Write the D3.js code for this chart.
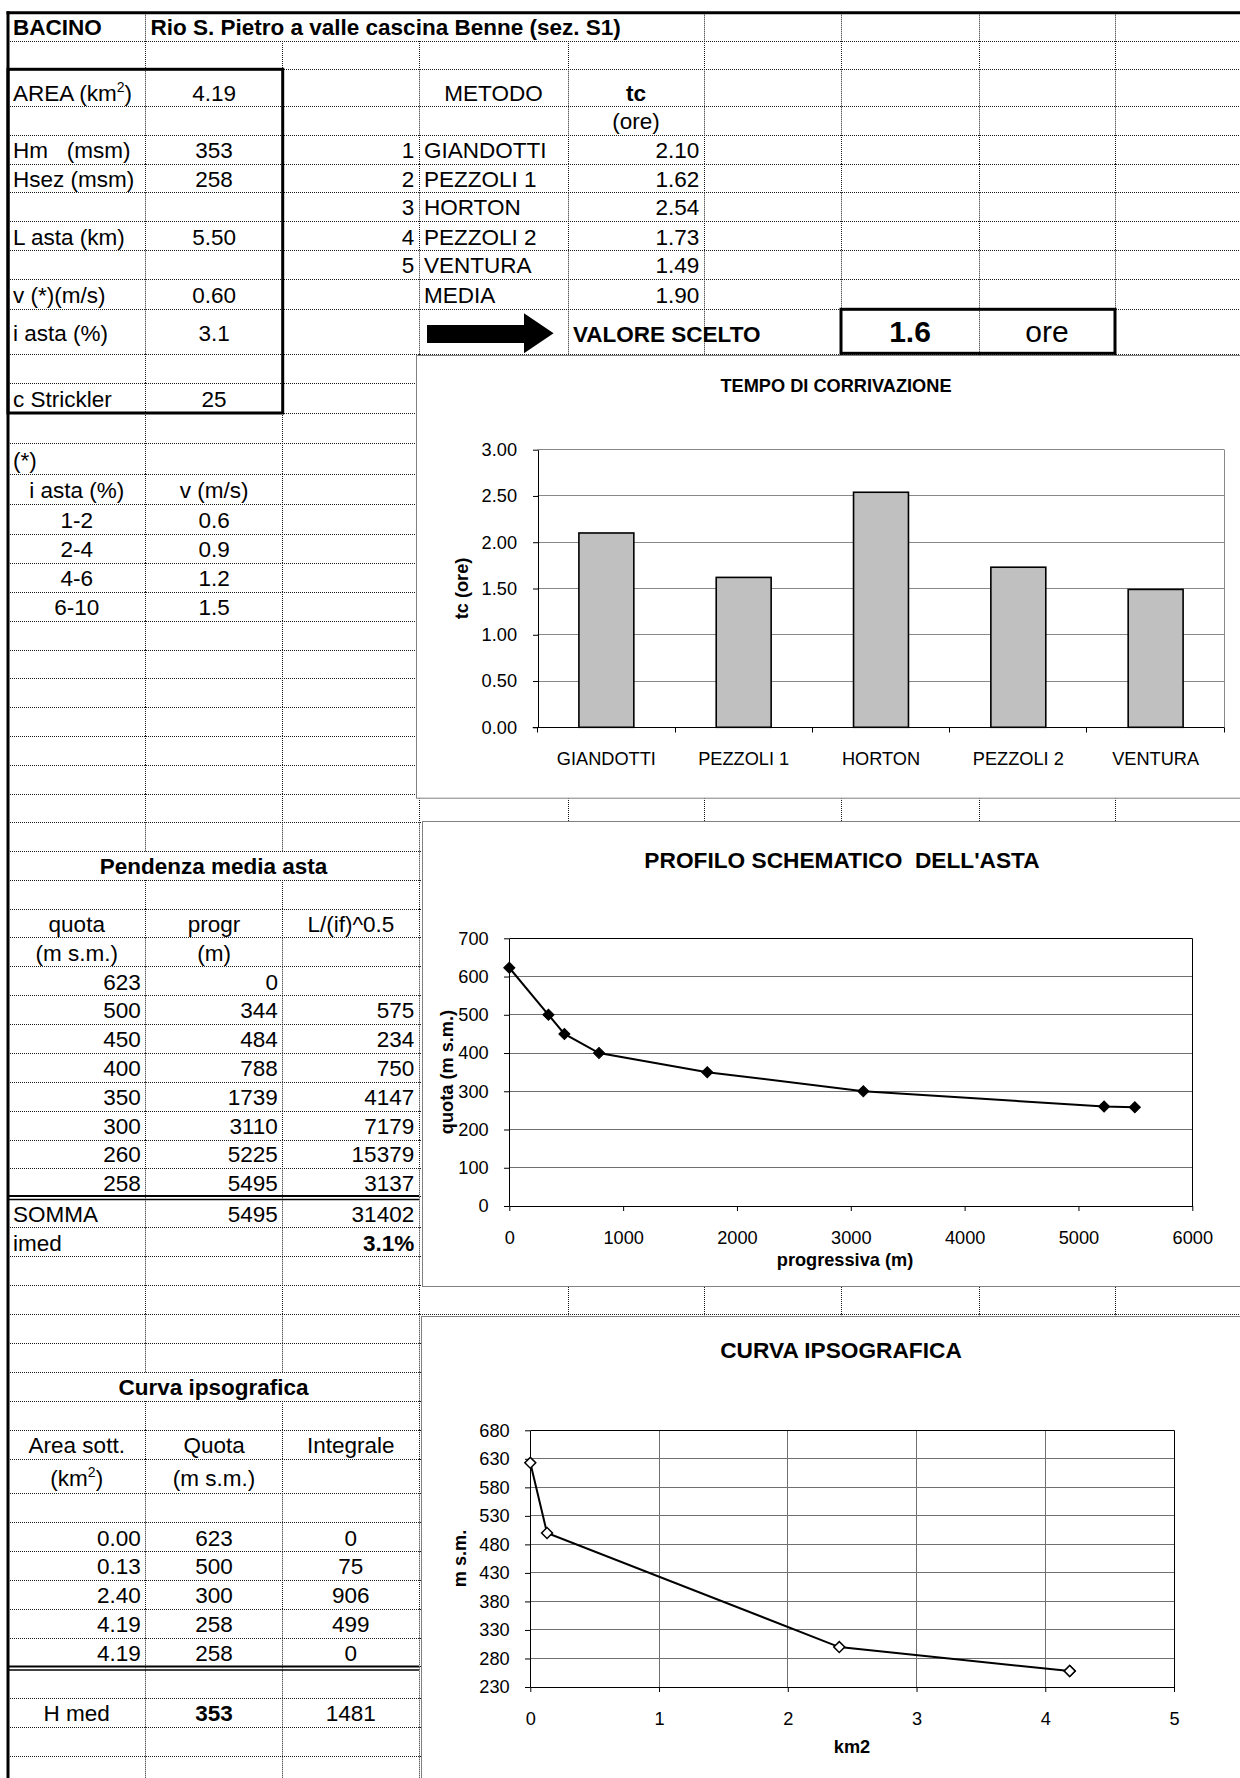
<!DOCTYPE html>
<html>
<head>
<meta charset="utf-8">
<script src="https://cdn.jsdelivr.net/npm/d3@7"></script>
<style>
  html, body { margin: 0; padding: 0; background: #fff; }
  svg { display: block; }
  text { font-family: "Liberation Sans", Arial, Helvetica, sans-serif; white-space: pre; fill: #000; }
</style>
</head>
<body>
<svg id="sheet" width="1240" height="1778"></svg>
<script>
// ---- Basin data ----
const basinName = "Rio S. Pietro a valle cascina Benne (sez. S1)";
const basinLabels = ["Hm   (msm)", "Hsez (msm)", "L asta (km)", "v (*)(m/s)", "i asta (%)", "c Strickler"];
const basinValues = ["353", "258", "5.50", "0.60", "3.1", "25"];
const basinArea = "4.19";

// ---- Time of concentration (tc, hours) ----
const methods = ["GIANDOTTI", "PEZZOLI 1", "HORTON", "PEZZOLI 2", "VENTURA"];
const tcValues = [2.10, 1.62, 2.54, 1.73, 1.49];
const tcMean = 1.90;
const tcChosen = 1.6;
const tcTicks = [0, 0.5, 1.0, 1.5, 2.0, 2.5, 3.0];

// ---- Velocity classes ----
const slopeClasses = ["1-2", "2-4", "4-6", "6-10"];
const slopeSpeeds = ["0.6", "0.9", "1.2", "1.5"];

// ---- Stream profile ----
const profQuota = [623, 500, 450, 400, 350, 300, 260, 258];
const profProgr = [0, 344, 484, 788, 1739, 3110, 5225, 5495];
const profLif = [null, 575, 234, 750, 4147, 7179, 15379, 3137];
const profSum = ["5495", "31402"];
const profImed = "3.1%";
const profTicksX = [0, 1000, 2000, 3000, 4000, 5000, 6000];
const profTicksY = [0, 100, 200, 300, 400, 500, 600, 700];

// ---- Hypsographic curve ----
const hypsoArea = [0.00, 0.13, 2.40, 4.19, 4.19];
const hypsoQuota = [623, 500, 300, 258, 258];
const hypsoIntegral = [0, 75, 906, 499, 0];
const hypsoHmed = "353";
const hypsoIntSum = "1481";
const hypsoTicksX = [0, 1, 2, 3, 4, 5];
const hypsoTicksY = [230, 280, 330, 380, 430, 480, 530, 580, 630, 680];

// ---- Sheet geometry ----
const colX = [8, 145.5, 282.7, 419, 568, 704, 841, 979, 1115, 1240];
const rowY = [12.7, 41, 69.3, 106.7, 135, 164, 192.7, 221, 250.7, 279.3, 309.3, 354, 383, 413,
  443, 474, 504, 534, 563, 592, 621, 650, 678, 707, 736, 765, 794, 822.3, 851.7, 880, 909,
  937.7, 966.7, 995.7, 1024.3, 1053.3, 1082.3, 1111, 1140, 1168.3, 1196.7, 1227.7, 1256.7,
  1285, 1314.3, 1343.3, 1372.3, 1401, 1430, 1459, 1493.3, 1522.7, 1551.7, 1580, 1609.3,
  1638.3, 1666.7, 1698.3, 1727.3, 1756.7, 1786];

const svg = d3.select("#sheet");
const crisp = v => Math.round(v - 0.5) + 0.5;
const TS = 22.5;   // cell font size
const CS = 18.2;   // chart font size

// ---- Cell gridlines (dotted) ----
const grid = svg.append("g");
rowY.slice(1).forEach(y => {
  grid.append("line").attr("x1", 8).attr("x2", 1240).attr("y1", crisp(y)).attr("y2", crisp(y));
});
for (let r = 0; r < rowY.length - 1; r++) {
  for (let c = 1; c < colX.length - 1; c++) {
    if (r === 0 && (c === 2 || c === 3 || c === 4)) continue;
    if ((r === 28 || r === 46) && (c === 1 || c === 2)) continue;
    grid.append("line")
      .attr("x1", crisp(colX[c])).attr("x2", crisp(colX[c]))
      .attr("y1", rowY[r]).attr("y2", rowY[r + 1]);
  }
}
grid.selectAll("line").attr("stroke", "#1a1a1a").attr("stroke-width", 1).attr("stroke-dasharray", "1 1");

// ---- Heavy borders ----
const borders = svg.append("g").attr("stroke", "#000").attr("fill", "none");
borders.append("line").attr("x1", 6.5).attr("x2", 1240).attr("y1", 12.7).attr("y2", 12.7).attr("stroke-width", 3);
borders.append("line").attr("x1", 8).attr("x2", 8).attr("y1", 11.2).attr("y2", 1778).attr("stroke-width", 3);
borders.append("rect").attr("x", 8).attr("y", 69.3).attr("width", 274.7).attr("height", 343.7).attr("stroke-width", 3);
borders.append("rect").attr("x", 841).attr("y", 309.3).attr("width", 274).attr("height", 44).attr("stroke-width", 3);
// double underlines closing the two tables
[[1196, 1199.5], [1666.5, 1670]].forEach(([a, b]) => {
  borders.append("line").attr("x1", 8).attr("x2", 419).attr("y1", a).attr("y2", a).attr("stroke-width", 2);
  borders.append("line").attr("x1", 8).attr("x2", 419).attr("y1", b).attr("y2", b).attr("stroke-width", 1.5);
});

// ---- Cell text helper ----
function cell(r, c, txt, align, o = {}) {
  const c2 = c + (o.span || 1);
  const x = align === "l" ? colX[c] + 5 : align === "r" ? colX[c2] - 4.8 : (colX[c] + colX[c2]) / 2;
  const y = o.y !== undefined ? o.y : rowY[r + 1] - 6;
  return svg.append("text")
    .attr("x", x).attr("y", y)
    .attr("text-anchor", { l: "start", r: "end", c: "middle" }[align])
    .attr("font-size", o.size || TS)
    .attr("font-weight", o.bold ? "bold" : "normal")
    .text(txt);
}
function withSup(t, before, sup, after) {
  t.text(null);
  t.append("tspan").text(before);
  t.append("tspan").attr("dy", -9).attr("font-size", 14).text(sup);
  t.append("tspan").attr("dy", 9).attr("font-size", TS).text(after);
}

// header
cell(0, 0, "BACINO", "l", { bold: true });
cell(0, 1, basinName, "l", { bold: true });

// basin block
withSup(cell(2, 0, "", "l"), "AREA (km", "2", ")");
cell(2, 1, basinArea, "c");
const basinRows = [4, 5, 7, 9, 10, 12];
basinRows.forEach((r, i) => {
  const y = r === 10 ? 341 : undefined;
  cell(r, 0, basinLabels[i], "l", { y });
  cell(r, 1, basinValues[i], "c", { y });
});

// methods block
cell(2, 3, "METODO", "c");
cell(2, 4, "tc", "c", { bold: true });
cell(3, 4, "(ore)", "c");
methods.forEach((m, i) => {
  const r = 4 + i;
  cell(r, 2, String(i + 1), "r");
  cell(r, 3, m, "l");
  cell(r, 4, d3.format(".2f")(tcValues[i]), "r");
});
cell(9, 3, "MEDIA", "l");
cell(9, 4, d3.format(".2f")(tcMean), "r");

// chosen value row
svg.append("path")
  .attr("d", "M427,325 H524 V313.3 L553.6,333.3 L524,353.3 V343 H427 Z")
  .attr("fill", "#000");
cell(10, 4, "VALORE SCELTO", "l", { bold: true, y: 342 });
cell(10, 6, String(tcChosen), "c", { bold: true, size: 30, y: 342 });
cell(10, 7, "ore", "c", { size: 30, y: 342 });

// velocity classes
cell(14, 0, "(*)", "l");
cell(15, 0, "i asta (%)", "c");
cell(15, 1, "v (m/s)", "c");
slopeClasses.forEach((s, i) => {
  cell(16 + i, 0, s, "c");
  cell(16 + i, 1, slopeSpeeds[i], "c");
});

// stream slope table
cell(28, 0, "Pendenza media asta", "c", { bold: true, span: 3 });
cell(30, 0, "quota", "c");
cell(30, 1, "progr", "c");
cell(30, 2, "L/(if)^0.5", "c");
cell(31, 0, "(m s.m.)", "c");
cell(31, 1, "(m)", "c");
profQuota.forEach((q, i) => {
  const r = 32 + i;
  cell(r, 0, String(q), "r");
  cell(r, 1, String(profProgr[i]), "r");
  if (profLif[i] !== null) cell(r, 2, String(profLif[i]), "r");
});
cell(40, 0, "SOMMA", "l");
cell(40, 1, profSum[0], "r");
cell(40, 2, profSum[1], "r");
cell(41, 0, "imed", "l");
cell(41, 2, profImed, "r", { bold: true });

// hypsographic table
cell(46, 0, "Curva ipsografica", "c", { bold: true, span: 3 });
cell(48, 0, "Area sott.", "c");
cell(48, 1, "Quota", "c");
cell(48, 2, "Integrale", "c");
withSup(cell(49, 0, "", "c", { y: rowY[50] - 7 }), "(km", "2", ")");
cell(49, 1, "(m s.m.)", "c", { y: rowY[50] - 7 });
hypsoArea.forEach((a, i) => {
  const r = 51 + i;
  cell(r, 0, d3.format(".2f")(a), "r");
  cell(r, 1, String(hypsoQuota[i]), "c");
  cell(r, 2, String(hypsoIntegral[i]), "c");
});
cell(57, 0, "H med", "c");
cell(57, 1, hypsoHmed, "c", { bold: true });
cell(57, 2, hypsoIntSum, "c");

// ---- Chart frames ----
function frame(x0, y0, y1) {
  svg.append("rect").attr("x", crisp(x0)).attr("y", crisp(y0))
    .attr("width", 1260 - x0).attr("height", y1 - y0)
    .attr("fill", "#fff").attr("stroke", "#808080").attr("stroke-width", 1);
}
function styleAxis(g) {
  g.attr("font-family", null).attr("font-size", CS);
  g.selectAll("line, path").attr("stroke", "#000");
  g.selectAll("text").attr("fill", "#000");
}
function axisTitle(g, txt, x, y, rotate, size) {
  g.append("text").attr("x", x).attr("y", y).attr("dy", "0.35em")
    .attr("text-anchor", "middle").attr("font-weight", "bold").attr("font-size", size || CS)
    .attr("transform", rotate ? `rotate(-90,${x},${y})` : null).text(txt);
}

// ==== Chart 1: TEMPO DI CORRIVAZIONE (bars) ====
frame(416.7, 355, 797.7);
const g1 = svg.append("g");
const p1 = { l: 537.7, r: 1224.3, t: 449.7, b: 727.3 };
const xCat = d3.scaleBand().domain(methods).range([p1.l, p1.r]);
const xBar = d3.scaleBand().domain(methods).range([p1.l, p1.r]).paddingInner(0.6).paddingOuter(0.3);
const y1 = d3.scaleLinear().domain([0, 3]).range([p1.b, p1.t]);

g1.selectAll("line.gl").data(tcTicks.filter(d => d > 0)).join("line")
  .attr("x1", p1.l).attr("x2", p1.r)
  .attr("y1", d => crisp(y1(d))).attr("y2", d => crisp(y1(d)))
  .attr("stroke", "#888").attr("stroke-width", 1);
g1.append("line").attr("x1", crisp(p1.r)).attr("x2", crisp(p1.r))
  .attr("y1", y1(3)).attr("y2", y1(0)).attr("stroke", "#888");

g1.selectAll("rect.bar").data(methods).join("rect")
  .attr("x", d => xBar(d)).attr("width", xBar.bandwidth())
  .attr("y", (d, i) => y1(tcValues[i])).attr("height", (d, i) => y1(0) - y1(tcValues[i]))
  .attr("fill", "#c0c0c0").attr("stroke", "#000").attr("stroke-width", 1.6);

g1.append("g").attr("transform", `translate(${Math.round(p1.l)},0)`)
  .call(d3.axisLeft(y1).tickValues(tcTicks).tickFormat(d3.format(".2f")).tickSize(5).tickSizeOuter(0).tickPadding(16))
  .call(styleAxis);

// category axis: ticks on band boundaries, labels centred in bands
const by = crisp(y1(0));
g1.append("line").attr("x1", p1.l - 5).attr("x2", p1.r).attr("y1", by).attr("y2", by).attr("stroke", "#000");
g1.selectAll("line.ct").data([...methods.map(d => xCat(d)), p1.r]).join("line")
  .attr("x1", d => crisp(d)).attr("x2", d => crisp(d)).attr("y1", by).attr("y2", by + 5).attr("stroke", "#000");
g1.selectAll("text.cl").data(methods).join("text")
  .attr("x", d => xCat(d) + xCat.bandwidth() / 2).attr("y", p1.b + 31).attr("dy", "0.35em")
  .attr("text-anchor", "middle").attr("font-size", CS).text(d => d);

axisTitle(g1, "TEMPO DI CORRIVAZIONE", 836, 386, false, CS);
axisTitle(g1, "tc (ore)", 461.7, 588.5, true, CS);

// ==== Chart 2: PROFILO SCHEMATICO DELL'ASTA ====
frame(422.7, 821.7, 1286.7);
const g2 = svg.append("g");
const p2 = { l: 509.3, r: 1192.3, t: 938.3, b: 1206 };
const x2 = d3.scaleLinear().domain([0, 6000]).range([p2.l, p2.r]);
const y2 = d3.scaleLinear().domain([0, 700]).range([p2.b, p2.t]);

g2.selectAll("line.gl").data(profTicksY.filter(d => d > 0 && d < 700)).join("line")
  .attr("x1", p2.l).attr("x2", p2.r)
  .attr("y1", d => crisp(y2(d))).attr("y2", d => crisp(y2(d)))
  .attr("stroke", "#707070");
g2.append("path")
  .attr("d", `M${p2.l},${crisp(p2.t)}H${crisp(p2.r)}V${p2.b}`)
  .attr("fill", "none").attr("stroke", "#000");

g2.append("g").attr("transform", `translate(${Math.round(p2.l)},0)`)
  .call(d3.axisLeft(y2).tickValues(profTicksY).tickSize(5).tickSizeOuter(0).tickPadding(15.3))
  .call(styleAxis);
g2.append("g").attr("transform", `translate(0,${Math.round(p2.b)})`)
  .call(d3.axisBottom(x2).tickValues(profTicksX).tickFormat(d3.format("d")).tickSize(5).tickSizeOuter(0).tickPadding(19.6))
  .call(styleAxis);

const prof = profProgr.map((p, i) => [p, profQuota[i]]);
g2.append("path").datum(prof)
  .attr("d", d3.line().x(d => x2(d[0])).y(d => y2(d[1])))
  .attr("fill", "none").attr("stroke", "#000").attr("stroke-width", 2);
const diamond = d3.symbol(d3.symbolSquare, 62)();
g2.selectAll("path.mk").data(prof).join("path")
  .attr("d", diamond)
  .attr("transform", d => `translate(${x2(d[0])},${y2(d[1])}) rotate(45)`)
  .attr("fill", "#000").attr("stroke", "#000").attr("stroke-width", 1);

axisTitle(g2, "PROFILO SCHEMATICO  DELL'ASTA", 842, 860, false, 22.7);
axisTitle(g2, "quota (m s.m.)", 446.7, 1072, true, CS);
axisTitle(g2, "progressiva (m)", 845, 1259.3, false, CS);

// ==== Chart 3: CURVA IPSOGRAFICA ====
frame(421, 1316, 1800);
const g3 = svg.append("g");
const p3 = { l: 530.3, r: 1174, t: 1430.3, b: 1687 };
const x3 = d3.scaleLinear().domain([0, 5]).range([p3.l, p3.r]);
const y3 = d3.scaleLinear().domain([230, 680]).range([p3.b, p3.t]);

g3.selectAll("line.gh").data(hypsoTicksY.filter(d => d > 230 && d < 680)).join("line")
  .attr("x1", p3.l).attr("x2", p3.r)
  .attr("y1", d => crisp(y3(d))).attr("y2", d => crisp(y3(d)))
  .attr("stroke", "#707070");
g3.selectAll("line.gv").data(hypsoTicksX.filter(d => d > 0 && d < 5)).join("line")
  .attr("x1", d => crisp(x3(d))).attr("x2", d => crisp(x3(d)))
  .attr("y1", p3.t).attr("y2", p3.b)
  .attr("stroke", "#707070");
g3.append("path")
  .attr("d", `M${p3.l},${crisp(p3.t)}H${crisp(p3.r)}V${p3.b}`)
  .attr("fill", "none").attr("stroke", "#000");

g3.append("g").attr("transform", `translate(${Math.round(p3.l)},0)`)
  .call(d3.axisLeft(y3).tickValues(hypsoTicksY).tickSize(5).tickSizeOuter(0).tickPadding(15.3))
  .call(styleAxis);
g3.append("g").attr("transform", `translate(0,${Math.round(p3.b)})`)
  .call(d3.axisBottom(x3).tickValues(hypsoTicksX).tickFormat(d3.format("d")).tickSize(5).tickSizeOuter(0).tickPadding(19.9))
  .call(styleAxis);

const hyp = hypsoArea.map((a, i) => [a, hypsoQuota[i]]);
g3.append("path").datum(hyp)
  .attr("d", d3.line().x(d => x3(d[0])).y(d => y3(d[1])))
  .attr("fill", "none").attr("stroke", "#000").attr("stroke-width", 2);
const diamondOpen = d3.symbol(d3.symbolSquare, 60)();
g3.selectAll("path.mk").data(hyp).join("path")
  .attr("d", diamondOpen)
  .attr("transform", d => `translate(${x3(d[0])},${y3(d[1])}) rotate(45)`)
  .attr("fill", "#fff").attr("stroke", "#000").attr("stroke-width", 1.5);

axisTitle(g3, "CURVA IPSOGRAFICA", 841, 1350, false, 22.7);
axisTitle(g3, "m s.m.", 459.3, 1558.5, true, CS);
axisTitle(g3, "km2", 852, 1746.7, false, CS);
</script>
</body>
</html>
